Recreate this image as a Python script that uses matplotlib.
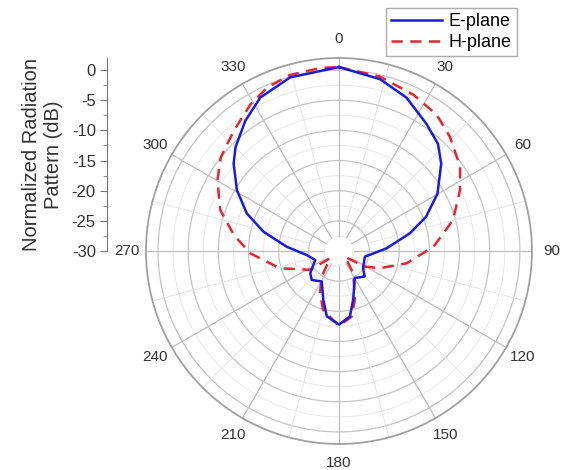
import numpy as np
import matplotlib
matplotlib.use('Agg')
import matplotlib.pyplot as plt

plt.rcParams['font.family'] = ['Liberation Sans', 'DejaVu Sans']

# angles in degrees (0 = up, clockwise), gain in dB
e_angle = [0, 13.4, 23.7, 34.5, 42.7, 49.5, 59.8, 68.6, 76, 86.8, 102.4, 125.4,
           134.7, 149.6, 163.7, 170.5, 180, 190.6, 197.8, 209.4, 223.3, 232.4,
           249.4, 262.9, 274.7, 284.3, 292.2, 300.8, 309.7, 315.1, 324.3, 332.9,
           344.3, 360]
e_gain = [0.5, -0.7, -2.2, -4.4, -5.8, -7.7, -11.1, -14.5, -17.9, -22.1, -25.6, -25.1,
          -24.0, -24.8, -21.6, -19.0, -17.8, -19.0, -21.5, -24.2, -23.4, -24.0,
          -25.8, -24.6, -21.3, -17.1, -13.5, -10.3, -7.3, -5.7, -3.4, -1.4,
          -0.1, 0.5]

h_angle = [0, 13.2, 25.5, 35.7, 44.2, 55.1, 63.2, 74.8, 87.4, 100.3, 112.5, 121.1,
           133.5, 147.3, 161.9, 169.1, 180, 195.2, 204.3, 214, 231, 236.8,
           253.7, 268.5, 278.6, 289, 300.1, 308.4, 318.9, 328.9, 336.3, 344.4,
           354.1, 360]
h_gain = [0.5, -0.3, -1.3, -2.2, -3.6, -5.5, -7.5, -10.4, -14.3, -18.6, -22.6, -25.0,
          -28.6, -25.6, -21.5, -18.9, -17.6, -19.9, -22.4, -24.9, -28.1, -24.3,
          -19.8, -15.3, -12.4, -9.2, -6.7, -5.0, -3.5, -1.6, -0.4, 0.3,
          0.5, 0.5]

angle_ticks = list(range(0, 360, 30))
r_ticks = [0, -5, -10, -15, -20, -25, -30]

r_min = -30
r_max = 2


def draw_grid(ax):
	t = np.linspace(0, 2 * np.pi, 721)
	for r in np.arange(-27.5, 0.1, 2.5):
		if r % 5 == 0:
			ax.plot(t, np.full_like(t, r), color='#c4c4c4', lw=0.9, zorder=1)
		else:
			ax.plot(t, np.full_like(t, r), color='#e8e8e8', lw=0.7, zorder=1)
	for d in range(0, 360, 15):
		a = np.radians(d)
		if d % 30 == 0:
			ax.plot([a, a], [-27.5, r_max], color='#bdbdbd', lw=0.9, zorder=1)
		else:
			ax.plot([a, a], [-25, r_max], color='#e4e4e4', lw=0.7, zorder=1)


def main():
	fig = plt.figure(figsize=(5.61, 4.70), dpi=100)

	ax = fig.add_axes([0.2602, 0.0553, 0.688, 0.8213], projection='polar')
	ax.set_theta_zero_location('N')
	ax.set_theta_direction(-1)
	ax.set_ylim(r_min, r_max)
	ax.grid(False)
	ax.set_yticks([])
	ax.set_xticks(np.radians(angle_ticks))
	ax.set_xticklabels([str(a) for a in angle_ticks], fontsize=11, color='#333333')
	ax.tick_params(axis='x', pad=7, length=0)
	ax.spines['polar'].set_color('#a0a0a0')
	ax.spines['polar'].set_linewidth(1.3)

	draw_grid(ax)

	e_line, = ax.plot(np.radians(e_angle), e_gain, color='#1a1ae6', lw=1.8,
		zorder=4, label='E-plane')
	h_line, = ax.plot(np.radians(h_angle), h_gain, color='#e8242c', lw=1.8,
		ls=(0, (4.5, 3)), zorder=3, label='H-plane')

	# separate radial scale on the left
	ax2 = fig.add_axes([0.1907, 0.466, 0.001, 0.4106])
	ax2.set_ylim(r_min, r_max)
	ax2.set_xticks([])
	for s in ['top', 'right', 'bottom']:
		ax2.spines[s].set_visible(False)
	ax2.spines['left'].set_color('#777777')
	ax2.set_yticks(r_ticks)
	ax2.set_yticklabels([str(r) for r in r_ticks], fontsize=12, color='#333333')
	ax2.set_yticks(np.arange(-27.5, 0, 5), minor=True)
	ax2.tick_params(axis='y', which='major', length=5, color='#777777', pad=3)
	ax2.tick_params(axis='y', which='minor', length=3, color='#777777')
	ax2.set_ylabel('Normalized Radiation\nPattern (dB)', fontsize=14.5,
		color='#333333', labelpad=6)

	leg = fig.legend(handles=[e_line, h_line], loc='upper right',
		bbox_to_anchor=(0.922, 0.983), fontsize=13, frameon=True,
		fancybox=False, borderpad=0.3, handlelength=2.8, handletextpad=0.4,
		labelspacing=0.2, borderaxespad=0)
	leg.get_frame().set_edgecolor('#999999')
	leg.get_frame().set_linewidth(1.0)

	fig.savefig('out.png', dpi=100)


if __name__ == '__main__':
	main()
